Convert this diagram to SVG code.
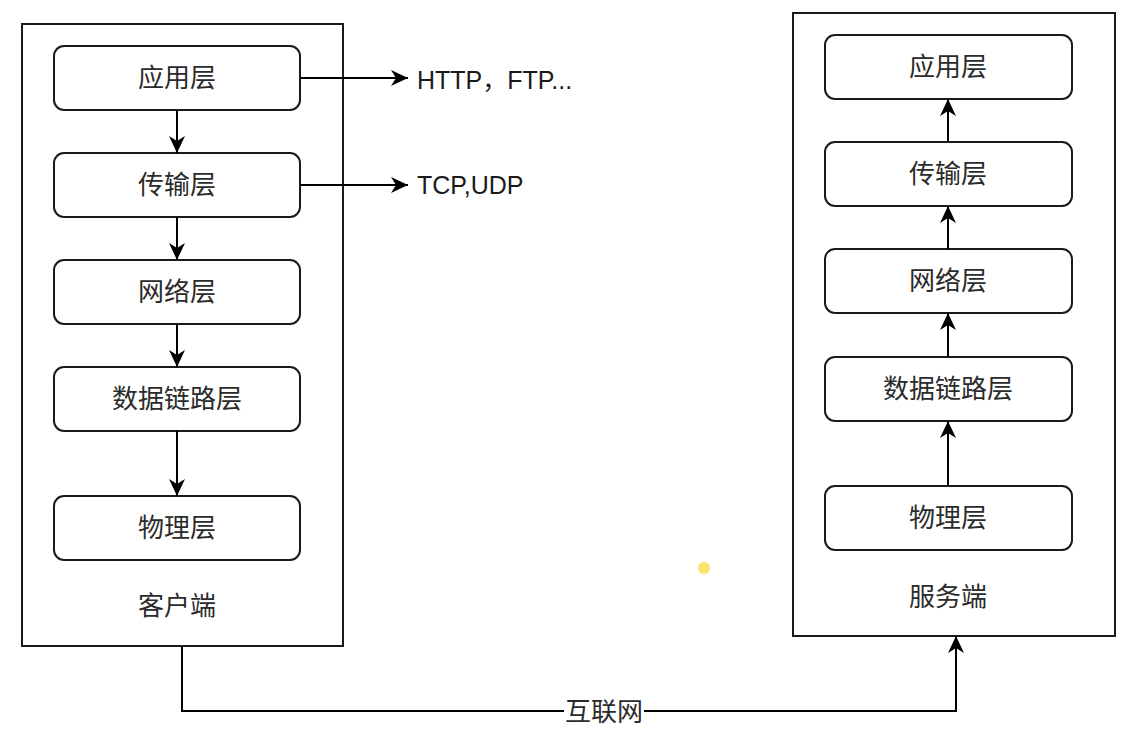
<svg xmlns="http://www.w3.org/2000/svg" width="1145" height="733" viewBox="0 0 1145 733">
<style>
.container{fill:#ffffff;stroke:#1a1a1a;stroke-width:2}
.layer{fill:#ffffff;stroke:#1a1a1a;stroke-width:2}
.lbl{font-family:"Noto Sans CJK SC","Liberation Sans",sans-serif;font-size:26px;fill:#2b2b2b;text-anchor:middle}
.lat{font-family:"Liberation Sans","Noto Sans CJK SC",sans-serif;font-size:25px;fill:#1a1a1a}
.edge{fill:none;stroke:#000000;stroke-width:2}
</style>
<defs>
<marker id="arr" markerUnits="userSpaceOnUse" markerWidth="18" markerHeight="16" viewBox="0 0 18 16" refX="17" refY="8" orient="auto">
<path d="M0,0 L17,8 L0,16 L5,8 Z" fill="#000000"/>
</marker>
</defs>
<rect width="1145" height="733" fill="#ffffff"/>

<g id="client">
<rect class="container" x="22" y="24" width="321" height="622"/>
<text class="lbl" x="177" y="615">客户端</text>
</g>
<g id="c-app"><rect class="layer" x="54" y="46" width="246" height="64" rx="10"/><text class="lbl" x="177" y="87">应用层</text></g>
<g id="c-trans"><rect class="layer" x="54" y="153" width="246" height="64" rx="10"/><text class="lbl" x="177" y="194">传输层</text></g>
<g id="c-net"><rect class="layer" x="54" y="260" width="246" height="64" rx="10"/><text class="lbl" x="177" y="301">网络层</text></g>
<g id="c-link"><rect class="layer" x="54" y="367" width="246" height="64" rx="10"/><text class="lbl" x="177" y="408">数据链路层</text></g>
<g id="c-phy"><rect class="layer" x="54" y="496" width="246" height="64" rx="10"/><text class="lbl" x="177" y="537">物理层</text></g>

<g id="server">
<rect class="container" x="793" y="13" width="322" height="623"/>
<text class="lbl" x="948" y="606">服务端</text>
</g>
<g id="s-app"><rect class="layer" x="825" y="35" width="247" height="64" rx="10"/><text class="lbl" x="948" y="76">应用层</text></g>
<g id="s-trans"><rect class="layer" x="825" y="142" width="247" height="64" rx="10"/><text class="lbl" x="948" y="183">传输层</text></g>
<g id="s-net"><rect class="layer" x="825" y="249" width="247" height="64" rx="10"/><text class="lbl" x="948" y="290">网络层</text></g>
<g id="s-link"><rect class="layer" x="825" y="357" width="247" height="64" rx="10"/><text class="lbl" x="948" y="398">数据链路层</text></g>
<g id="s-phy"><rect class="layer" x="825" y="486" width="247" height="64" rx="10"/><text class="lbl" x="948" y="527">物理层</text></g>

<g id="proto-http"><text class="lat" x="417" y="89">HTTP，FTP...</text></g>
<g id="proto-tcp"><text class="lat" x="417" y="194">TCP,UDP</text></g>

<g id="connectors">
<line class="edge" x1="177" y1="110" x2="177" y2="153" marker-end="url(#arr)"/>
<line class="edge" x1="177" y1="217" x2="177" y2="260" marker-end="url(#arr)"/>
<line class="edge" x1="177" y1="324" x2="177" y2="367" marker-end="url(#arr)"/>
<line class="edge" x1="177" y1="431" x2="177" y2="496" marker-end="url(#arr)"/>
<line class="edge" x1="300" y1="78" x2="408" y2="78" marker-end="url(#arr)"/>
<line class="edge" x1="300" y1="185" x2="408" y2="185" marker-end="url(#arr)"/>
<line class="edge" x1="948" y1="486" x2="948" y2="421" marker-end="url(#arr)"/>
<line class="edge" x1="948" y1="357" x2="948" y2="313" marker-end="url(#arr)"/>
<line class="edge" x1="948" y1="249" x2="948" y2="206" marker-end="url(#arr)"/>
<line class="edge" x1="948" y1="142" x2="948" y2="99" marker-end="url(#arr)"/>
<path class="edge" d="M182,646 L182,711 L956,711 L956,636" marker-end="url(#arr)"/>
<rect x="564" y="696" width="80" height="30" fill="#ffffff"/>
<text class="lbl" x="604" y="721">互联网</text>
</g>
<circle cx="704" cy="568" r="6" fill="#fde36a"/>
</svg>
